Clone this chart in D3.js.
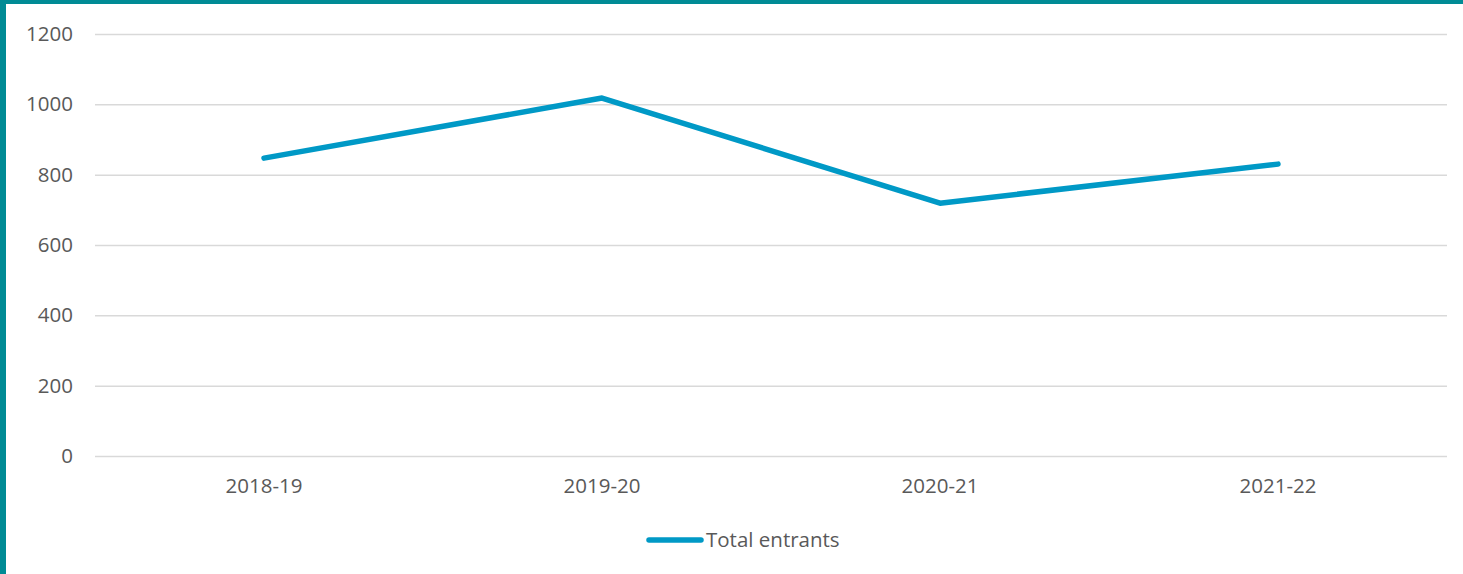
<!DOCTYPE html>
<html><head><meta charset="utf-8">
<script src="https://cdn.jsdelivr.net/npm/d3@7"></script>
<style>
html,body{margin:0;padding:0;background:#fff;}
svg{display:block;}
text{font-family:"Open Sans","Liberation Sans",sans-serif;fill:#595959;}
</style></head>
<body>
<svg id="c" width="1463" height="574"></svg>
<script>
const categories = ["2018-19","2019-20","2020-21","2021-22"];
const totalEntrants = [847, 1018, 719, 830];
const yTicks = [0,200,400,600,800,1000,1200];
const seriesName = "Total entrants";

const W = 1463, H = 574;
const FS = 20.5;
const svg = d3.select("#c");
svg.append("rect").attr("x",0).attr("y",0).attr("width",W).attr("height",H).attr("fill","#fff");
svg.append("rect").attr("x",0).attr("y",0).attr("width",W).attr("height",4).attr("fill","#008B95");
svg.append("rect").attr("x",0).attr("y",0).attr("width",6).attr("height",H).attr("fill","#008B95");

const m = {left:95, right:1447, top:34, bottom:456};
const x = d3.scaleBand().domain(categories).range([m.left, m.right]);
const y = d3.scaleLinear().domain([0,1200]).range([m.bottom, m.top]);

const yAxis = svg.append("g").attr("transform",`translate(${m.left},0)`)
  .call(d3.axisLeft(y).tickValues(yTicks).tickFormat(d3.format("d")).tickSize(-(m.right-m.left)).tickPadding(22));
yAxis.select(".domain").remove();
yAxis.selectAll(".tick line").attr("stroke","#D9D9D9").attr("stroke-width",1.5);
yAxis.selectAll(".tick text").attr("font-size",FS).style("font-family","'Open Sans','Liberation Sans',sans-serif").attr("fill","#595959");

const xAxis = svg.append("g").attr("transform",`translate(0,${m.bottom})`)
  .call(d3.axisBottom(x).tickSize(0).tickPadding(22));
xAxis.select(".domain").remove();
xAxis.selectAll(".tick text").attr("font-size",FS).style("font-family","'Open Sans','Liberation Sans',sans-serif").attr("fill","#595959");

const line = d3.line().x((d,i)=>x(categories[i])+x.bandwidth()/2).y(d=>y(d));
svg.append("path").datum(totalEntrants).attr("d",line)
  .attr("fill","none").attr("stroke","#0099C6").attr("stroke-width",5.5)
  .attr("stroke-linecap","round").attr("stroke-linejoin","round");

const lg = svg.append("g");
lg.append("line").attr("x1",649).attr("x2",701).attr("y1",540).attr("y2",540)
  .attr("stroke","#0099C6").attr("stroke-width",5.5).attr("stroke-linecap","round");
lg.append("text").attr("x",706).attr("y",540).attr("dy","0.35em").attr("font-size",FS).text(seriesName);
</script>
</body></html>
